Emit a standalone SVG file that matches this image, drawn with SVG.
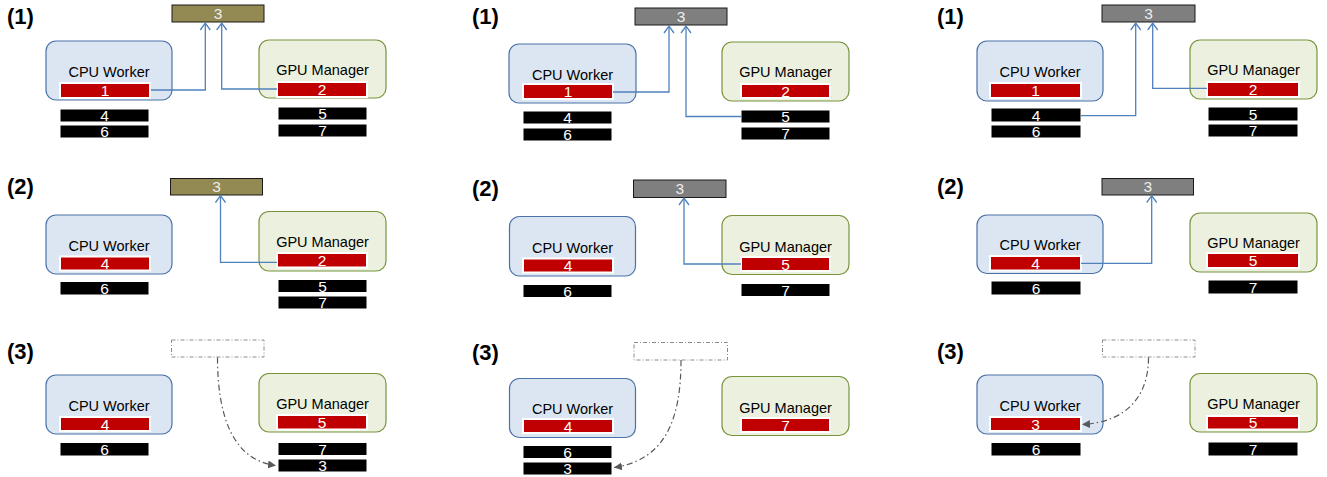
<svg xmlns="http://www.w3.org/2000/svg" width="1327" height="477" viewBox="0 0 1327 477">
  <style>
    text { font-family: "Liberation Sans", Arial, sans-serif; }
    .lbl { font-size: 22px; font-weight: bold; fill: #000; }
    .cpu { fill: #dce6f2; stroke: #4a72a8; stroke-width: 1.2; }
    .gpu { fill: #ebf1de; stroke: #77933c; stroke-width: 1.2; }
    .name { font-size: 14.5px; fill: #000; text-anchor: middle; }
    .red { fill: #c00000; stroke: #fff; stroke-width: 2; }
    .blk { fill: #000; stroke: #fff; stroke-width: 1; }
    .olive { fill: #938953; stroke: #1a1a1a; stroke-width: 1; }
    .grey { fill: #7f7f7f; stroke: #1a1a1a; stroke-width: 1; }
    .ghost { fill: none; stroke: #8c8c8c; stroke-width: 1; stroke-dasharray: 4 2 1 2; }
    .num { font-size: 15.5px; fill: #fff; text-anchor: middle; }
    .num3 { font-size: 15.5px; fill: #eeeeee; text-anchor: middle; }
    .flow { fill: none; stroke: #4f81bd; stroke-width: 1.3; marker-end: url(#open); }
    .move { fill: none; stroke: #595959; stroke-width: 1.2; stroke-dasharray: 6 3 1.5 3; marker-end: url(#solid); }
  </style>
  <defs>
    <marker id="open" markerUnits="userSpaceOnUse" markerWidth="12" markerHeight="12" refX="8" refY="6" orient="auto">
      <path d="M1,1 L8,6 L1,11" fill="none" stroke="#4f81bd" stroke-width="1.3"/>
    </marker>
    <marker id="solid" markerUnits="userSpaceOnUse" markerWidth="10" markerHeight="10" refX="8" refY="5" orient="auto">
      <path d="M0,1 L8,5 L0,9 Z" fill="#595959"/>
    </marker>
  </defs>

  <!-- step labels -->
  <g id="labels">
    <text class="lbl" x="7" y="23.5">(1)</text>
    <text class="lbl" x="7" y="194">(2)</text>
    <text class="lbl" x="7" y="358.5">(3)</text>
    <text class="lbl" x="472" y="24">(1)</text>
    <text class="lbl" x="472" y="195.5">(2)</text>
    <text class="lbl" x="472" y="360">(3)</text>
    <text class="lbl" x="937" y="23.5">(1)</text>
    <text class="lbl" x="937" y="194">(2)</text>
    <text class="lbl" x="937" y="358.5">(3)</text>
  </g>

  <!-- ===== column A ===== -->
  <g id="a1-target"><rect class="olive" x="172" y="5" width="92" height="17"/><text class="num3" x="218" y="19">3</text></g>
  <g id="a1-cpu">
    <rect class="cpu" x="46" y="41" width="126" height="59" rx="10"/>
    <text class="name" x="109" y="77">CPU Worker</text>
    <rect class="red" x="60" y="83" width="90" height="15"/><text class="num" x="105" y="96">1</text>
    <rect class="blk" x="60" y="109" width="89" height="13"/><text class="num" x="104.5" y="121">4</text>
    <rect class="blk" x="60" y="125" width="89" height="13"/><text class="num" x="104.5" y="137">6</text>
  </g>
  <g id="a1-gpu">
    <rect class="gpu" x="259" y="40" width="127" height="58" rx="10"/>
    <text class="name" x="322.5" y="75">GPU Manager</text>
    <rect class="red" x="277" y="82" width="90" height="15"/><text class="num" x="322" y="95">2</text>
    <rect class="blk" x="278" y="107" width="89" height="13"/><text class="num" x="322.5" y="119">5</text>
    <rect class="blk" x="278" y="124" width="89" height="13"/><text class="num" x="322.5" y="136">7</text>
  </g>

  <g id="a2-target"><rect class="olive" x="170.5" y="178.5" width="92" height="16.5"/><text class="num3" x="216.5" y="192.3">3</text></g>
  <g id="a2-cpu">
    <rect class="cpu" x="46" y="215" width="126" height="59" rx="10"/>
    <text class="name" x="109" y="250.5">CPU Worker</text>
    <rect class="red" x="60" y="256.5" width="90" height="14"/><text class="num" x="105" y="269">4</text>
    <rect class="blk" x="60" y="281.5" width="89" height="13.5"/><text class="num" x="104.5" y="293.8">6</text>
  </g>
  <g id="a2-gpu">
    <rect class="gpu" x="259" y="211.5" width="127" height="59.5" rx="10"/>
    <text class="name" x="322.5" y="246.5">GPU Manager</text>
    <rect class="red" x="277" y="253" width="90" height="14.5"/><text class="num" x="322" y="265.8">2</text>
    <rect class="blk" x="278" y="279.5" width="89" height="13"/><text class="num" x="322.5" y="291.5">5</text>
    <rect class="blk" x="278" y="296" width="89" height="13"/><text class="num" x="322.5" y="308">7</text>
  </g>

  <g id="a3-target"><rect class="ghost" x="171.5" y="340" width="92.5" height="17"/></g>
  <g id="a3-cpu">
    <rect class="cpu" x="46" y="375" width="126" height="59" rx="10"/>
    <text class="name" x="109" y="411">CPU Worker</text>
    <rect class="red" x="60" y="417" width="90" height="14"/><text class="num" x="105" y="429.5">4</text>
    <rect class="blk" x="60" y="442.5" width="89" height="13.5"/><text class="num" x="104.5" y="454.8">6</text>
  </g>
  <g id="a3-gpu">
    <rect class="gpu" x="259" y="373.5" width="127" height="58.5" rx="10"/>
    <text class="name" x="322.5" y="409">GPU Manager</text>
    <rect class="red" x="277" y="415" width="90" height="14.5"/><text class="num" x="322" y="427.8">5</text>
    <rect class="blk" x="278" y="442.5" width="89" height="13"/><text class="num" x="322.5" y="454.5">7</text>
    <rect class="blk" x="278" y="459" width="89" height="13"/><text class="num" x="322.5" y="471">3</text>
  </g>

  <!-- ===== column B ===== -->
  <g id="b1-target"><rect class="grey" x="635" y="8" width="92" height="17"/><text class="num3" x="681" y="22">3</text></g>
  <g id="b1-cpu">
    <rect class="cpu" x="509" y="44" width="127" height="59" rx="10"/>
    <text class="name" x="572.5" y="79.5">CPU Worker</text>
    <rect class="red" x="523" y="84" width="90" height="15"/><text class="num" x="568" y="97">1</text>
    <rect class="blk" x="523" y="111" width="89" height="13"/><text class="num" x="567.5" y="123">4</text>
    <rect class="blk" x="523" y="128" width="89" height="13"/><text class="num" x="567.5" y="140">6</text>
  </g>
  <g id="b1-gpu">
    <rect class="gpu" x="722" y="42" width="127" height="59" rx="10"/>
    <text class="name" x="785.5" y="77">GPU Manager</text>
    <rect class="red" x="741" y="84" width="89" height="14"/><text class="num" x="785.5" y="96.5">2</text>
    <rect class="blk" x="741" y="110" width="89" height="13"/><text class="num" x="785.5" y="122">5</text>
    <rect class="blk" x="741" y="127" width="89" height="13"/><text class="num" x="785.5" y="139">7</text>
  </g>

  <g id="b2-target"><rect class="grey" x="633.5" y="180" width="92.5" height="17.5"/><text class="num3" x="679.75" y="194.3">3</text></g>
  <g id="b2-cpu">
    <rect class="cpu" x="509.5" y="216.5" width="126" height="59.5" rx="10"/>
    <text class="name" x="572.5" y="252.5">CPU Worker</text>
    <rect class="red" x="523" y="258.5" width="90" height="14"/><text class="num" x="568" y="271">4</text>
    <rect class="blk" x="523" y="284.5" width="89" height="13"/><text class="num" x="567.5" y="296.5">6</text>
  </g>
  <g id="b2-gpu">
    <rect class="gpu" x="722" y="215.5" width="127" height="59" rx="10"/>
    <text class="name" x="785.5" y="252">GPU Manager</text>
    <rect class="red" x="741" y="257" width="89" height="14"/><text class="num" x="785.5" y="269.5">5</text>
    <rect class="blk" x="741" y="283.5" width="89" height="13"/><text class="num" x="785.5" y="295.5">7</text>
  </g>

  <g id="b3-target"><rect class="ghost" x="634" y="342.5" width="93.5" height="17.5"/></g>
  <g id="b3-cpu">
    <rect class="cpu" x="509.5" y="378.5" width="126" height="59" rx="10"/>
    <text class="name" x="572.5" y="413.5">CPU Worker</text>
    <rect class="red" x="523" y="419" width="90" height="14"/><text class="num" x="568" y="431.5">4</text>
    <rect class="blk" x="523" y="445.5" width="89" height="13"/><text class="num" x="567.5" y="457.5">6</text>
    <rect class="blk" x="523" y="462" width="89" height="13"/><text class="num" x="567.5" y="474">3</text>
  </g>
  <g id="b3-gpu">
    <rect class="gpu" x="722" y="376.5" width="127" height="59" rx="10"/>
    <text class="name" x="785.5" y="412.5">GPU Manager</text>
    <rect class="red" x="741" y="418" width="89" height="14"/><text class="num" x="785.5" y="430.5">7</text>
  </g>

  <!-- ===== column C ===== -->
  <g id="c1-target"><rect class="grey" x="1102" y="5" width="93" height="17"/><text class="num3" x="1148.5" y="19">3</text></g>
  <g id="c1-cpu">
    <rect class="cpu" x="977" y="41" width="126" height="60" rx="10"/>
    <text class="name" x="1040" y="77">CPU Worker</text>
    <rect class="red" x="990" y="83" width="91" height="15"/><text class="num" x="1035.5" y="96">1</text>
    <rect class="blk" x="991" y="108" width="90" height="14"/><text class="num" x="1036" y="120.5">4</text>
    <rect class="blk" x="991" y="125" width="90" height="13"/><text class="num" x="1036" y="137">6</text>
  </g>
  <g id="c1-gpu">
    <rect class="gpu" x="1190" y="40" width="127" height="59" rx="10"/>
    <text class="name" x="1253.5" y="75">GPU Manager</text>
    <rect class="red" x="1207" y="82" width="92" height="15"/><text class="num" x="1253" y="95">2</text>
    <rect class="blk" x="1208" y="107" width="90" height="14"/><text class="num" x="1253" y="119.5">5</text>
    <rect class="blk" x="1208" y="124" width="90" height="13"/><text class="num" x="1253" y="136">7</text>
  </g>

  <g id="c2-target"><rect class="grey" x="1102" y="178.5" width="91.5" height="16.5"/><text class="num3" x="1147.75" y="192.3">3</text></g>
  <g id="c2-cpu">
    <rect class="cpu" x="977" y="215" width="126" height="58.5" rx="10"/>
    <text class="name" x="1040" y="249.5">CPU Worker</text>
    <rect class="red" x="990" y="256" width="91" height="14.5"/><text class="num" x="1035.5" y="268.8">4</text>
    <rect class="blk" x="991" y="281" width="90" height="14"/><text class="num" x="1036" y="293.5">6</text>
  </g>
  <g id="c2-gpu">
    <rect class="gpu" x="1190" y="213" width="127" height="59" rx="10"/>
    <text class="name" x="1253.5" y="248">GPU Manager</text>
    <rect class="red" x="1207" y="253" width="92" height="15"/><text class="num" x="1253" y="266">5</text>
    <rect class="blk" x="1208" y="280" width="90" height="14"/><text class="num" x="1253" y="292.5">7</text>
  </g>

  <g id="c3-target"><rect class="ghost" x="1102.5" y="340" width="92.5" height="17"/></g>
  <g id="c3-cpu">
    <rect class="cpu" x="977" y="375" width="126" height="59" rx="10"/>
    <text class="name" x="1040" y="411">CPU Worker</text>
    <rect class="red" x="990" y="417" width="91" height="14"/><text class="num" x="1035.5" y="429.5">3</text>
    <rect class="blk" x="991" y="442.5" width="90" height="13.5"/><text class="num" x="1036" y="454.8">6</text>
  </g>
  <g id="c3-gpu">
    <rect class="gpu" x="1190" y="373.5" width="127" height="58.5" rx="10"/>
    <text class="name" x="1253.5" y="409">GPU Manager</text>
    <rect class="red" x="1207" y="416" width="92" height="13.5"/><text class="num" x="1253" y="428.3">5</text>
    <rect class="blk" x="1208" y="442" width="90" height="14"/><text class="num" x="1253" y="454.5">7</text>
  </g>

  <!-- connectors -->
  <g id="connectors">
    <path class="flow" d="M151,90 H205.3 V23"/>
    <path class="flow" d="M277,89 H221.7 V23"/>
    <path class="flow" d="M613,92 H669 V26"/>
    <path class="flow" d="M741,116.5 H686 V26"/>
    <path class="flow" d="M1081,115.7 H1135.7 V23"/>
    <path class="flow" d="M1207,88.3 H1152.7 V23"/>

    <path class="flow" d="M277,262.3 H220.5 V195.5"/>
    <path class="flow" d="M741,264 H684 V198"/>
    <path class="flow" d="M1081,263.3 H1151.7 V195.5"/>

    <path class="move" d="M217.5,357.5 C217.5,415 232,460 276,465.5"/>
    <path class="move" d="M681,360 C681,420 665,460 614,467.5"/>
    <path class="move" d="M1148.5,357.5 C1148.5,395 1128,422 1082,424.5"/>
  </g>
</svg>
